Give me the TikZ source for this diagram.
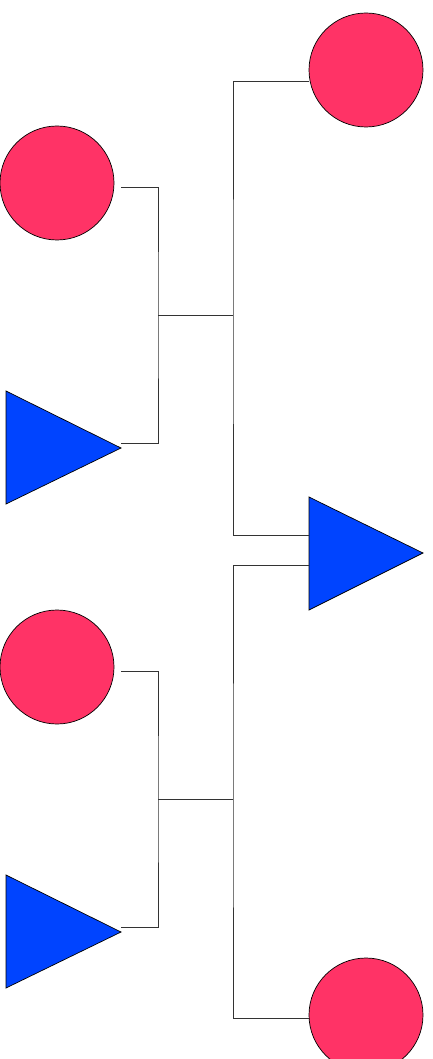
\documentclass[tikz,border=0pt]{standalone}
\usetikzlibrary{calc}
\definecolor{dotred}{RGB}{255,51,102}
\definecolor{triblue}{RGB}{0,68,255}
\tikzset{
    dot/.style={circle, draw=black, fill=dotred, minimum size=114pt, inner sep=0pt, line width=0.7pt},
    tri/.style={draw=black, fill=triblue, line width=0.7pt, line join=miter},
    wire/.style={draw=black!80, line width=0.9pt}
}
\begin{document}
\begin{tikzpicture}[x=1pt, y=-1pt]
        \useasboundingbox (0,0) rectangle (433,1059);
        % left pairs
        \foreach \dy/\n in {0/1,484/2}
        {
            \node[dot](a\n)at(57,{183+\dy}){};
            \path[tri](6,{391+\dy})--(121,{448+\dy})coordinate(b\n)--(6,{504+\dy})--cycle;
            \coordinate(ao\n)at($(a\n.east)+(7,4)$);
            \coordinate(bo\n)at($(b\n)+(0,-5)$);
            \coordinate(m\n)at(158,{315+\dy});
            \coordinate(s\n)at(233,{315+\dy});
            \path[wire](ao\n)-|(m\n)|-(bo\n);
            \path[wire](m\n)to(s\n);
        }
        % right column
        \node[dot](c1)at(366,70){};
        \node[dot](c2)at(366,1015){};
        \path[tri](309,497)coordinate(rt)--(423,553)coordinate(rapex)--(309,610)coordinate(rb)--cycle;
        \coordinate(p1)at(309,81);
        \coordinate(p2)at($(rt)+(0,38)$);
        \coordinate(p3)at($(rt)+(0,68)$);
        \coordinate(p4)at(309,1018);
        \path[wire](p1)-|(s1)|-(p2);
        \path[wire](p3)-|(s2)|-(p4);
    \end{tikzpicture}
\end{document}
